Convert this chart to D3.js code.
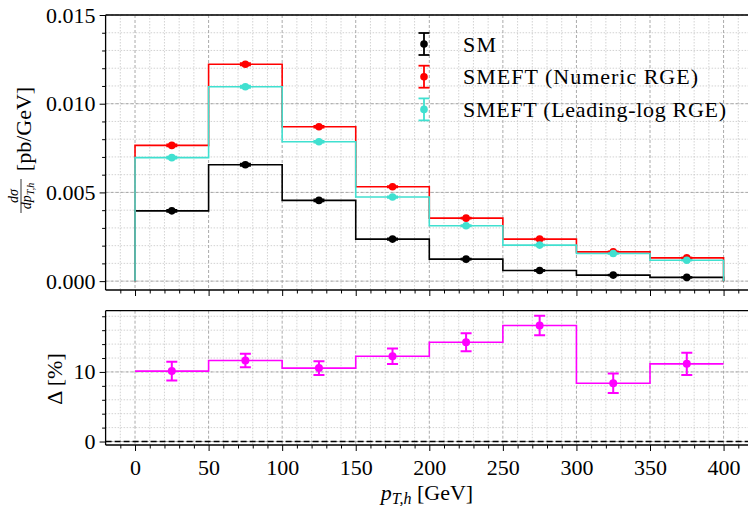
<!DOCTYPE html>
<html>
<head>
<meta charset="utf-8">
<script src="https://cdn.jsdelivr.net/npm/d3@7"></script>
<style>
  html, body { margin: 0; padding: 0; background: #fff; }
  svg { display: block; }
  text { font-family: "Liberation Serif", "DejaVu Serif", serif; fill: #000; }
</style>
</head>
<body>
<svg id="chart" width="748" height="506"></svg>
<script>
// ---------- data ----------
const binEdges = [0, 50, 100, 150, 200, 250, 300, 350, 400];
const smValues = [0.00396, 0.00656, 0.00455, 0.00237, 0.00124, 0.00060, 0.00034, 0.00021];
const smErrors = [0.00006, 0.00006, 0.00005, 0.00004, 0.00003, 0.00003, 0.00002, 0.00002];
const numericValues = [0.00765, 0.01222, 0.00870, 0.00532, 0.00355, 0.00237, 0.00165, 0.00131];
const numericErrors = [0.00006, 0.00006, 0.00005, 0.00004, 0.00003, 0.00003, 0.00002, 0.00002];
const leadingLogValues = [0.00696, 0.01096, 0.00786, 0.00474, 0.00312, 0.00203, 0.00156, 0.00118];
const leadingLogErrors = [0.00006, 0.00006, 0.00005, 0.00004, 0.00003, 0.00003, 0.00002, 0.00002];
const deltaValues = [10.12, 11.65, 10.55, 12.25, 14.27, 16.68, 8.37, 11.16];
const deltaErrors = [1.36, 0.97, 1.0, 1.1, 1.3, 1.4, 1.4, 1.6];
const xTicks = [0, 50, 100, 150, 200, 250, 300, 350, 400];
const yTopTicks = [0.000, 0.005, 0.010, 0.015];
const yBotTicks = [0, 10];
const legendLabels = ["SM", "SMEFT (Numeric RGE)", "SMEFT (Leading-log RGE)"];
const seriesColors = ["#000000", "#ff0000", "#40e0d0"];

// ---------- layout ----------
const svg = d3.select("#chart");
const L = 105.6, R = 753;
const topP = { t: 15, b: 290 };
const botP = { t: 310.7, b: 445 };

const x = d3.scaleLinear().domain([-20, 420]).range([L, R]);
const yTop = d3.scaleLinear().domain([-0.0005, 0.015]).range([topP.b, topP.t]);
const yBot = d3.scaleLinear().domain([-0.5, 18.8]).range([botP.b, botP.t]);

const fontSize = 22;
const majorGrid = "#a0a0a0", minorGrid = "#c8c8c8";

function panel(y, p, yMajor, yMinor, yFmt, id) {
  const g = svg.append("g");
  g.append("clipPath").attr("id", id).append("rect")
    .attr("x", L).attr("y", p.t).attr("width", R - L).attr("height", p.b - p.t);
  const grid = g.append("g");
  const xMinor = d3.range(-10, 421, 10).filter(v => v % 50 !== 0);
  const xMajor = d3.range(0, 421, 50);
  xMinor.forEach(v => grid.append("line").attr("x1", x(v)).attr("x2", x(v)).attr("y1", p.t).attr("y2", p.b)
    .attr("stroke", minorGrid).attr("stroke-width", 0.8).attr("stroke-dasharray", "1.5,1.5"));
  yMinor.forEach(v => grid.append("line").attr("x1", L).attr("x2", R).attr("y1", y(v)).attr("y2", y(v))
    .attr("stroke", minorGrid).attr("stroke-width", 0.8).attr("stroke-dasharray", "1.5,1.5"));
  xMajor.forEach(v => grid.append("line").attr("x1", x(v)).attr("x2", x(v)).attr("y1", p.t).attr("y2", p.b)
    .attr("stroke", majorGrid).attr("stroke-width", 0.9).attr("stroke-dasharray", "3,2"));
  yMajor.forEach(v => grid.append("line").attr("x1", L).attr("x2", R).attr("y1", y(v)).attr("y2", y(v))
    .attr("stroke", majorGrid).attr("stroke-width", 0.9).attr("stroke-dasharray", "3,2"));

  const yAx = g.append("g").attr("transform", `translate(${L},0)`)
    .call(d3.axisLeft(y).tickValues(yMajor).tickFormat(yFmt).tickSize(6).tickPadding(4));
  const yAxMin = g.append("g").attr("transform", `translate(${L},0)`)
    .call(d3.axisLeft(y).tickValues(yMinor.filter(v => !yMajor.includes(v))).tickFormat("").tickSize(3.5));
  const xAx = g.append("g").attr("transform", `translate(0,${p.b})`)
    .call(d3.axisBottom(x).tickValues(xTicks).tickSize(6).tickPadding(8));
  const xAxMin = g.append("g").attr("transform", `translate(0,${p.b})`)
    .call(d3.axisBottom(x).tickValues(xMinor).tickFormat("").tickSize(3.5));
  [yAx, yAxMin, xAx, xAxMin].forEach(a => {
    a.attr("font-family", null).attr("font-size", null);
    a.select(".domain").remove();
    a.selectAll("line").attr("stroke", "#000").attr("stroke-width", 1);
    a.selectAll("text").attr("font-size", fontSize);
  });
  g.append("line").attr("x1", L).attr("x2", L).attr("y1", p.t).attr("y2", p.b).attr("stroke", "#000").attr("stroke-width", 1.3);
  g.append("line").attr("x1", L).attr("x2", R).attr("y1", p.t).attr("y2", p.t).attr("stroke", "#000").attr("stroke-width", 1.3);
  g.append("line").attr("x1", L).attr("x2", R).attr("y1", p.b).attr("y2", p.b).attr("stroke", "#000").attr("stroke-width", 1.3);
  g.append("line").attr("x1", R).attr("x2", R).attr("y1", p.t).attr("y2", p.b).attr("stroke", "#000").attr("stroke-width", 1.3);
  return { g, xAx };
}

const topPanel = panel(yTop, topP, yTopTicks, d3.range(0, 0.0151, 0.001).map(v => +v.toFixed(4)), d3.format(".3f"), "clipTop");
topPanel.xAx.selectAll("text").remove();
const botPanel = panel(yBot, botP, yBotTicks, d3.range(0, 19, 2), d3.format("d"), "clipBot");

// ---------- marks ----------
const centers = binEdges.slice(0, -1).map((e, i) => (e + binEdges[i + 1]) / 2);
function stepPath(vals, y, closed) {
  let pts = [];
  if (closed) pts.push([x(binEdges[0]), y(0)]);
  vals.forEach((v, i) => { pts.push([x(binEdges[i]), y(v)]); pts.push([x(binEdges[i + 1]), y(v)]); });
  if (closed) pts.push([x(binEdges[binEdges.length - 1]), y(0)]);
  return d3.line()(pts);
}
function errorbars(g, vals, errs, y, color, r, capW, lw) {
  vals.forEach((v, i) => {
    const cx = x(centers[i]);
    g.append("line").attr("x1", cx).attr("x2", cx).attr("y1", y(v - errs[i])).attr("y2", y(v + errs[i]))
      .attr("stroke", color).attr("stroke-width", lw);
    [v - errs[i], v + errs[i]].forEach(e => g.append("line")
      .attr("x1", cx - capW / 2).attr("x2", cx + capW / 2).attr("y1", y(e)).attr("y2", y(e))
      .attr("stroke", color).attr("stroke-width", lw));
    g.append("circle").attr("cx", cx).attr("cy", y(v)).attr("r", r).attr("fill", color);
  });
}
const dTop = topPanel.g.append("g").attr("clip-path", "url(#clipTop)");
const topSeries = [
  { vals: smValues, errs: smErrors, color: seriesColors[0] },
  { vals: numericValues, errs: numericErrors, color: seriesColors[1] },
  { vals: leadingLogValues, errs: leadingLogErrors, color: seriesColors[2] }
];
topSeries.forEach(s => dTop.append("path").attr("d", stepPath(s.vals, yTop, true))
  .attr("fill", "none").attr("stroke", s.color).attr("stroke-width", 1.6));
topSeries.forEach(s => errorbars(dTop, s.vals, s.errs, yTop, s.color, 3.8, 11, 1.8));

const dBot = botPanel.g.append("g").attr("clip-path", "url(#clipBot)");
dBot.append("line").attr("x1", L).attr("x2", R).attr("y1", yBot(0)).attr("y2", yBot(0))
  .attr("stroke", "#000").attr("stroke-width", 1.5).attr("stroke-dasharray", "6,3");
dBot.append("path").attr("d", stepPath(deltaValues, yBot, false))
  .attr("fill", "none").attr("stroke", "#ff00ff").attr("stroke-width", 1.6);
errorbars(dBot, deltaValues, deltaErrors, yBot, "#ff00ff", 4, 11, 2);

// ---------- legend ----------
const legendWidths = [33, 235, 263];
const lg = svg.append("g");
legendLabels.forEach((lab, i) => {
  const cy = 44 + i * 32.7, cx = 424, c = seriesColors[i];
  lg.append("line").attr("x1", cx).attr("x2", cx).attr("y1", cy - 11).attr("y2", cy + 11).attr("stroke", c).attr("stroke-width", 1.8);
  [cy - 11, cy + 11].forEach(yy => lg.append("line").attr("x1", cx - 5.5).attr("x2", cx + 5.5).attr("y1", yy).attr("y2", yy)
    .attr("stroke", c).attr("stroke-width", 1.8));
  lg.append("circle").attr("cx", cx).attr("cy", cy).attr("r", 3.8).attr("fill", c);
  lg.append("text").attr("x", 463).attr("y", cy + 7.5).attr("font-size", fontSize)
    .attr("textLength", legendWidths[i]).attr("lengthAdjust", "spacing").text(lab);
});

// ---------- axis labels ----------
svg.append("text").attr("x", 427).attr("y", 500).attr("text-anchor", "middle").attr("font-size", fontSize)
  .html('<tspan font-style="italic">p</tspan><tspan font-style="italic" font-size="16" dy="4">T,h</tspan><tspan dy="-4"> [GeV]</tspan>');

svg.append("text").attr("transform", "translate(31,129) rotate(-90)").attr("text-anchor", "middle")
  .attr("font-size", fontSize).text("[pb/GeV]");
svg.append("text").attr("transform", "translate(18,196) rotate(-90)").attr("text-anchor", "middle")
  .attr("font-size", 14).attr("font-style", "italic").text("dσ");
svg.append("line").attr("x1", 21).attr("x2", 21).attr("y1", 179).attr("y2", 213).attr("stroke", "#000").attr("stroke-width", 0.8);
svg.append("text").attr("transform", "translate(31,196) rotate(-90)").attr("text-anchor", "middle")
  .attr("font-size", 14).attr("font-style", "italic")
  .html('dp<tspan font-size="10" dy="3">T,h</tspan>');

svg.append("text").attr("transform", "translate(62,379) rotate(-90)").attr("text-anchor", "middle")
  .attr("font-size", fontSize).text("Δ [%]");
</script>
</body>
</html>
